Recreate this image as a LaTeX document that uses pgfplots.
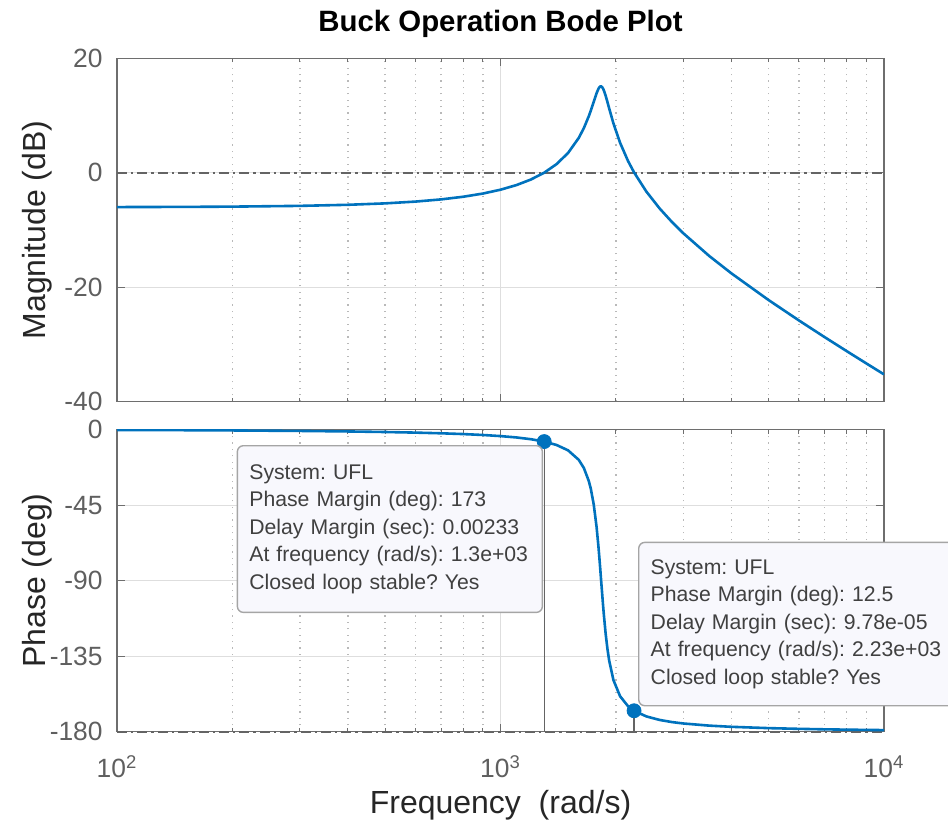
\documentclass[border=0pt]{standalone}
\usepackage{pgfplots}
\pgfplotsset{compat=1.18}
\usepackage{pgfplotstable}
\usepackage{fontspec}
\setmainfont{Liberation Sans}
\frenchspacing

\definecolor{bodeblue}{RGB}{0,114,189}
\definecolor{axisgray}{RGB}{110,110,110}
\definecolor{ticktext}{RGB}{95,95,95}
\definecolor{labeltext}{RGB}{38,38,38}
\definecolor{gridgray}{RGB}{222,222,222}
\definecolor{minorgray}{RGB}{185,185,185}
\definecolor{refline}{RGB}{100,100,100}
\definecolor{tipfill}{RGB}{248,248,253}
\definecolor{tipedge}{RGB}{165,165,165}
\definecolor{tiptext}{RGB}{64,64,64}

% frequency (rad/s), magnitude (dB), phase (deg)
\pgfplotstableread{
w      mag      phase
100    -5.995   -0.276
150    -5.962   -0.416
200    -5.917   -0.558
300    -5.785   -0.849
400    -5.597   -1.157
500    -5.350   -1.489
600    -5.037   -1.852
700    -4.653   -2.258
800    -4.188   -2.723
900    -3.630   -3.267
1000   -2.960   -3.922
1100   -2.156   -4.734
1200   -1.182   -5.781
1300    0.012   -7.193
1400    1.511   -9.221
1500    3.453   -12.40
1600    6.097   -18.09
1650    7.822   -22.98
1700    9.921   -30.82
1720   10.874   -35.35
1750   12.397   -44.54
1780   13.880   -57.81
1800   14.660   -69.41
1810   14.922   -75.98
1820   15.071   -82.90
1830   15.090   -90.00
1840   14.976   -97.06
1850   14.738   -103.88
1860   14.392   -110.28
1880   13.471   -121.50
1900   12.388   -130.47
1920   11.265   -137.51
1970    8.638   -149.19
2050    5.247   -158.86
2150    2.067   -164.79
2230    0.058   -167.53
2400   -3.277   -170.89
2600   -6.245   -173.00
2800   -8.613   -174.27
3000  -10.597   -175.11
3500  -14.529   -176.38
4000  -17.576   -177.09
5000  -22.238   -177.87
6000  -25.804   -178.30
7000  -28.714   -178.59
8000  -31.181   -178.78
9000  -33.327   -178.93
10000 -35.228   -179.05
}\bodedata

\pgfplotsset{
  bodeaxis/.style={
    scale only axis, width=383.5pt,
    xmin=100, xmax=10000,
    xtick={100,1000,10000},
    minor xtick={200,300,400,500,600,700,800,900,2000,3000,4000,5000,6000,7000,8000,9000},
    xmajorgrids, xminorgrids, ymajorgrids,
    major grid style={gridgray, line width=0.5pt},
    minor grid style={minorgray, line width=0.6pt, dash pattern=on 0.6pt off 2.6pt},
    axis line style={axisgray, line width=0.6pt},
    tick style={axisgray, line width=0.5pt},
    major tick length=4pt, minor tick length=2pt,
    /pgf/number format/assume math mode=true,
    tick label style={font=\fontsize{13.2}{15}\selectfont, text=ticktext},
    yticklabel style={anchor=east, inner sep=0pt, xshift=-7pt},
    label style={font=\fontsize{16}{19}\selectfont, text=labeltext},
    ylabel style={at={(axis description cs:-0.075,0.5)}, anchor=south},
  },
}
\tikzset{
  tipbox/.style={draw=tipedge, fill=tipfill, rounded corners=3pt, line width=0.7pt,
    align=left, inner xsep=6pt, inner ysep=0pt, anchor=north west,
    font=\fontsize{10.6}{13.75}\selectfont, text=tiptext},
  refdash/.style={refline, line width=0.9pt, dash pattern=on 5pt off 2pt on 1.2pt off 2pt},
}

\begin{document}
\begin{tikzpicture}
\path[use as bounding box] (0,0) rectangle (474pt,412.5pt);

\begin{semilogxaxis}[
  bodeaxis,
  at={(58.5pt,211.65pt)}, anchor=south west,
  height=171.7pt,
  ymin=-40, ymax=20, ytick={-40,-20,0,20},
  xticklabels={},
  ylabel={Magnitude (dB)},
  title={Buck Operation Bode Plot},
  title style={font=\bfseries\fontsize{14.7}{17}\selectfont, text=black,
    at={(axis description cs:0.5,1)}, anchor=base, yshift=7.5pt},
]
\draw[refdash] (axis cs:100,0) -- (axis cs:10000,0);
\addplot[bodeblue, line width=1.3pt] table[x=w, y=mag] {\bodedata};
\end{semilogxaxis}

\begin{semilogxaxis}[
  bodeaxis,
  at={(58.5pt,46.65pt)}, anchor=south west,
  height=151.1pt,
  clip mode=individual,
  ymin=-180, ymax=0, ytick={-180,-135,-90,-45,0},
  xticklabels={10\textsuperscript{2},10\textsuperscript{3},10\textsuperscript{4}},
  xticklabel style={anchor=base, yshift=-23pt},
  ylabel={Phase (deg)},
  xlabel={Frequency\ \ (rad/s)},
  xlabel style={at={(axis description cs:0.5,0)}, anchor=base, yshift=-41pt},
]
\draw[refdash] (axis cs:100,-180) -- (axis cs:10000,-180);
\addplot[bodeblue, line width=1.3pt] table[x=w, y=phase] {\bodedata};
\addplot[refline, line width=0.7pt] coordinates {(1300,-7.19) (1300,-180)};
\addplot[refline, line width=0.7pt] coordinates {(2230,-167.53) (2230,-180)};
\addplot[only marks, mark=*, mark size=3.5pt, bodeblue] coordinates {(1300,-7.19) (2230,-167.53)};
\node[tipbox, text width=140.5pt, minimum height=83.35pt] at (rel axis cs:0.156,0.9487)
  {System: UFL\\Phase Margin (deg): 173\\Delay Margin (sec): 0.00233\\At frequency (rad/s): 1.3e+03\\Closed loop stable? Yes};
\node[tipbox, text width=146pt, minimum height=81.65pt] at (rel axis cs:0.6793,0.6287)
  {System: UFL\\Phase Margin (deg): 12.5\\Delay Margin (sec): 9.78e-05\\At frequency (rad/s): 2.23e+03\\Closed loop stable? Yes};
\end{semilogxaxis}
\end{tikzpicture}
\end{document}
